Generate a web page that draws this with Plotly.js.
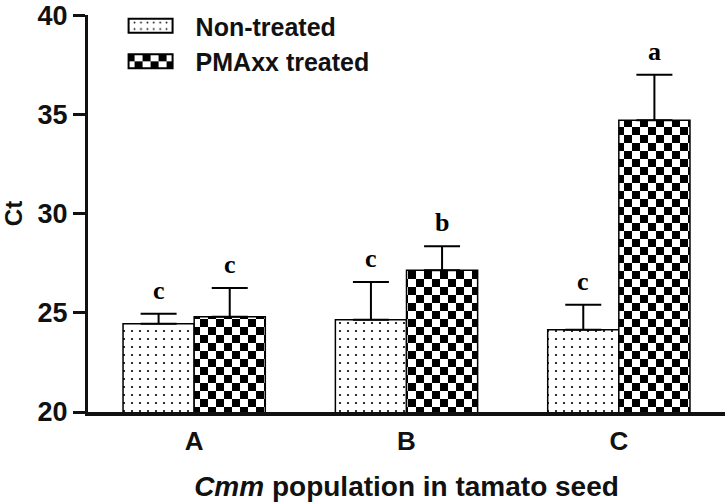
<!DOCTYPE html>
<html>
<head>
<meta charset="utf-8">
<script src="https://cdn.plot.ly/plotly-3.0.1.min.js"></script>
<style>
  html, body { margin: 0; padding: 0; background: #fff; }
  #chart { width: 728px; height: 502px; }
</style>
</head>
<body>
<div id="chart"></div>
<script>
// Ct values by Cmm population
const groups = ['A', 'B', 'C'];
const nonTreated = [24.45, 24.65, 24.15];
const nonTreatedErr = [0.5, 1.9, 1.25];
const pmaxx = [24.8, 27.15, 34.7];
const pmaxxErr = [1.45, 1.2, 2.3];
const nonLetters = ['c', 'c', 'c'];
const pmaxxLetters = ['c', 'b', 'a'];
const zeros = [0, 0, 0];

const SANS = 'Liberation Sans, Arial, sans-serif';
const SERIF = 'Liberation Serif, Times New Roman, serif';

const bargap = 0.33;
const offset = (1 - bargap) / 4;

const data = [
    {
        name: 'Non-treated',
        x: groups,
        y: nonTreated,
        type: 'bar',
        marker: {
            color: '#ffffff',
            line: { color: '#000000', width: 1.5 },
            pattern: { shape: '.', size: 8, solidity: 0.06, fgcolor: '#000000', bgcolor: '#ffffff' }
        },
        error_y: {
            type: 'data', symmetric: false, array: nonTreatedErr, arrayminus: zeros,
            color: '#000000', thickness: 2, width: 18
        }
    },
    {
        name: 'PMAxx treated',
        x: groups,
        y: pmaxx,
        type: 'bar',
        marker: {
            color: '#ffffff',
            line: { color: '#000000', width: 1.5 },
            pattern: { shape: '+', size: 16, solidity: 0.5, fgcolor: '#000000', bgcolor: '#ffffff' }
        },
        error_y: {
            type: 'data', symmetric: false, array: pmaxxErr, arrayminus: zeros,
            color: '#000000', thickness: 2, width: 18
        }
    }
];

// significance letters over the error bars
const annotations = [];
groups.forEach((g, i) => {
    annotations.push({
        x: i - offset, y: nonTreated[i] + nonTreatedErr[i], xref: 'x', yref: 'y',
        text: nonLetters[i], showarrow: false, yanchor: 'bottom', yshift: 7,
        font: { family: SERIF, size: 26, color: '#000', weight: 'bold' }
    });
    annotations.push({
        x: i + offset, y: pmaxx[i] + pmaxxErr[i], xref: 'x', yref: 'y',
        text: pmaxxLetters[i], showarrow: false, yanchor: 'bottom', yshift: 7,
        font: { family: SERIF, size: 26, color: '#000', weight: 'bold' }
    });
});

const layout = {
    width: 728,
    height: 502,
    margin: { t: 12, b: 90, l: 88, r: 3 },
    barmode: 'group',
    bargap: bargap,
    bargroupgap: 0,
    showlegend: true,
    legend: {
        x: 0.059, y: 1.03, xanchor: 'left', yanchor: 'top',
        bgcolor: 'rgba(0,0,0,0)',
        font: { family: SANS, size: 25, color: '#111', weight: 'bold' },
        itemwidth: 60,
        tracegroupgap: 0
    },
    xaxis: {
        range: [-0.5, 2.5],
        showline: true, linecolor: '#111', linewidth: 4,
        ticks: '', showgrid: false, zeroline: false,
        tickfont: { family: SANS, size: 26, color: '#111', weight: 'bold' },
        ticklabelstandoff: 3,
        title: {
            text: '<i>Cmm</i> population in tamato seed',
            font: { family: SANS, size: 28, color: '#111', weight: 'bold' },
            standoff: 22
        }
    },
    yaxis: {
        range: [20, 40.01],
        tickvals: [20, 25, 30, 35, 40],
        showline: true, linecolor: '#111', linewidth: 3,
        ticks: 'outside', ticklen: 12, tickwidth: 3, tickcolor: '#111',
        showgrid: false, zeroline: false,
        tickfont: { family: SANS, size: 27, color: '#111', weight: 'bold' },
        title: {
            text: 'Ct',
            font: { family: SANS, size: 24, color: '#111', weight: 'bold' },
            standoff: 11
        }
    },
    annotations: annotations,
    paper_bgcolor: '#ffffff',
    plot_bgcolor: '#ffffff'
};

// swap the '+' fill for a real checkerboard and widen the legend swatches
function finishStyle(gd) {
    const ns = 'http://www.w3.org/2000/svg';
    const svg = gd.querySelector('.main-svg');
    let defs = svg.querySelector('defs');
    if (!defs) {
        defs = document.createElementNS(ns, 'defs');
        svg.insertBefore(defs, svg.firstChild);
    }
    const pat = document.createElementNS(ns, 'pattern');
    pat.setAttribute('id', 'checker');
    pat.setAttribute('patternUnits', 'userSpaceOnUse');
    pat.setAttribute('width', 16);
    pat.setAttribute('height', 16);
    [[0, 0, 16, 16, '#ffffff'], [0, 0, 8, 8, '#000000'], [8, 8, 8, 8, '#000000']].forEach(r => {
        const rect = document.createElementNS(ns, 'rect');
        rect.setAttribute('x', r[0]);
        rect.setAttribute('y', r[1]);
        rect.setAttribute('width', r[2]);
        rect.setAttribute('height', r[3]);
        rect.setAttribute('fill', r[4]);
        pat.appendChild(rect);
    });
    defs.appendChild(pat);

    const barTraces = gd.querySelectorAll('.barlayer .trace');
    if (barTraces[1]) {
        barTraces[1].querySelectorAll('.point path').forEach(p => {
            p.style.fill = 'url(#checker)';
        });
    }

    const legendTraces = gd.querySelectorAll('.legend .traces');
    legendTraces.forEach((t, i) => {
        const p = t.querySelector('.legendpoints path');
        if (!p) return;
        p.setAttribute('d', 'M-22,-7H22V7H-22Z');
        p.setAttribute('transform', 'translate(25,0)');
        p.style.strokeWidth = '2px';
        if (i === 1) p.style.fill = 'url(#checker)';
    });
}

Plotly.newPlot('chart', data, layout, { staticPlot: true }).then(finishStyle);
</script>
</body>
</html>
